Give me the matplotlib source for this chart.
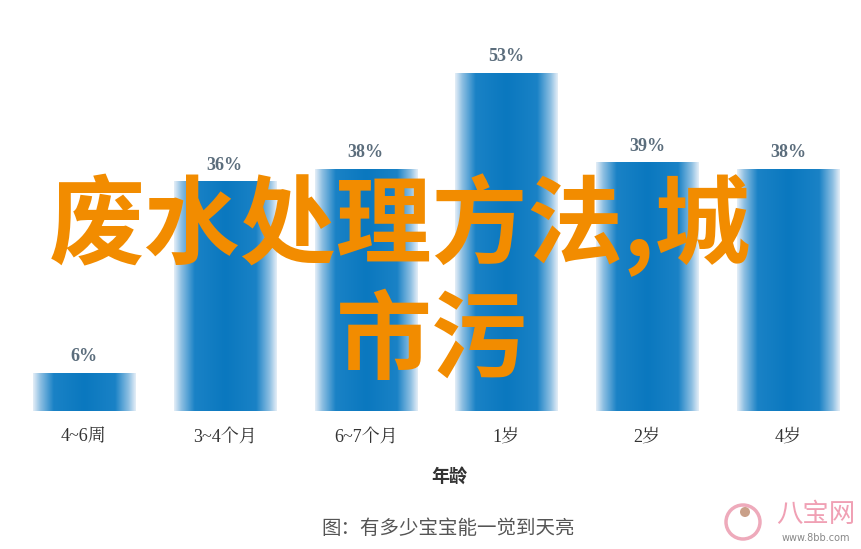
import numpy as np
import matplotlib
matplotlib.use("Agg")
import matplotlib.pyplot as plt
from matplotlib.colors import LinearSegmentedColormap
from matplotlib.patches import Circle

categories = ["4~6周", "3~4个月", "6~7个月", "1岁", "2岁", "4岁"]
values = [6, 36, 38, 53, 39, 38]
value_labels = ["6%", "36%", "38%", "53%", "39%", "38%"]
xlabel = "年龄"
caption = "图：有多少宝宝能一觉到天亮"
overlay_line1 = "废水处理方法,城"
overlay_line2 = "市污"

W, H = 862, 549
fig = plt.figure(figsize=(W / 100, H / 100), dpi=100)
fig.patch.set_facecolor("white")

px_per_unit = 6.38
ymax = 60
ax_left = 13.6 / W
ax_w = 844.8 / W
ax_bottom = (H - 411) / H
ax_h = ymax * px_per_unit / H
ax = fig.add_axes([ax_left, ax_bottom, ax_w, ax_h])
ax.set_xlim(-0.5, len(categories) - 0.5)
ax.set_ylim(0, ymax)
ax.axis("off")

serif = ["Liberation Serif", "Noto Serif CJK SC", "Noto Sans CJK SC"]
cjk = ["Noto Sans CJK SC", "DejaVu Sans"]

cmap = LinearSegmentedColormap.from_list(
    "bar", [(0.0, "#e4eef7"), (0.07, "#8dbfe2"), (0.2, "#1a82c6"),
            (0.5, "#0a78bf"), (0.8, "#1a82c6"), (0.93, "#8dbfe2"), (1.0, "#e4eef7")])
grad = np.linspace(0, 1, 256).reshape(1, -1)
bw = 0.725
x = np.arange(len(categories))
bars = ax.bar(x, values, width=bw, color="none", edgecolor="none")
for b, v, lab in zip(bars, values, value_labels):
    x0 = b.get_x()
    im = ax.imshow(grad, extent=[x0, x0 + bw, 0, v], aspect="auto",
                   cmap=cmap, zorder=2, interpolation="bilinear")
    im.set_clip_path(b)
    ax.text(x0 + bw / 2, v + 1.2, lab, ha="center", va="bottom",
            fontsize=13, fontweight="bold", color="#5b6d7c", family=serif)

for xi, c in zip(x, categories):
    ax.text(xi, -4.1, c, ha="center", va="center", fontsize=13,
            color="#333333", family=serif)

fig.text(449 / W, 1 - 476 / H, xlabel, ha="center", va="center",
         fontsize=13, fontweight="bold", color="#333333", family=cjk)
fig.text(448 / W, 1 - 529 / H, caption, ha="center", va="center",
         fontsize=14, color="#555555", family=cjk)

fig.text(400 / W, 1 - 225 / H, overlay_line1, ha="center", va="center",
         fontsize=69, fontweight="bold", color="#f28c00", family=cjk)
fig.text(432 / W, 1 - 343 / H, overlay_line2, ha="center", va="center",
         fontsize=69, fontweight="bold", color="#f28c00", family=cjk)

# logo
lax = fig.add_axes([0, 0, 1, 1], facecolor="none")
lax.set_xlim(0, W)
lax.set_ylim(H, 0)
lax.axis("off")
lax.add_patch(Circle((743, 522), 17, facecolor="white", edgecolor="#eeaabb", lw=2.5))
lax.add_patch(Circle((745, 512), 5, facecolor="#c9a089", edgecolor="none"))
fig.text(816 / W, 1 - 515 / H, "八宝网", ha="center", va="center",
         fontsize=19, color="#f0a0b4", family=cjk)
fig.text(816 / W, 1 - 538 / H, "www.8bb.com", ha="center", va="center",
         fontsize=7, color="#888888", family=["DejaVu Sans"])

fig.savefig("out.png", dpi=100, facecolor="white")
